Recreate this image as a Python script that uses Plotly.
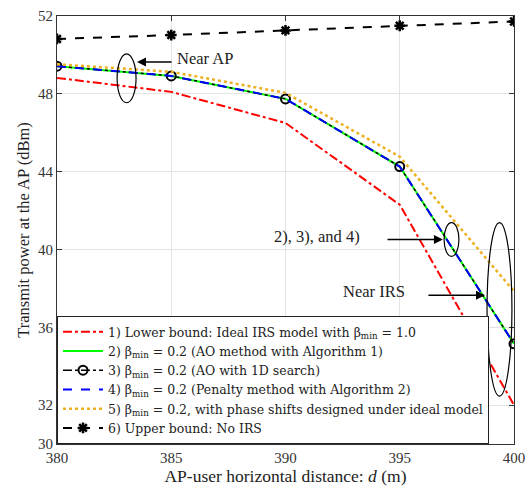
import plotly.graph_objects as go

d = [380, 385, 390, 395, 400]
lower_bound = [48.82, 48.10, 46.50, 42.30, 32.00]
ao_alg1 = [49.42, 48.92, 47.74, 44.26, 35.15]
ao_1d = [49.42, 48.92, 47.74, 44.26, 35.15]
penalty_alg2 = [49.42, 48.92, 47.74, 44.26, 35.15]
ideal_phase = [49.52, 49.13, 48.05, 44.77, 37.85]
upper_bound = [50.82, 51.02, 51.26, 51.50, 51.72]

names = [
    "1) Lower bound: Ideal IRS model with β<sub>min</sub> = 1.0",
    "2) β<sub>min</sub> = 0.2 (AO method with Algorithm 1)",
    "3) β<sub>min</sub> = 0.2 (AO with 1D search)",
    "4) β<sub>min</sub> = 0.2 (Penalty method with Algorithm 2)",
    "5) β<sub>min</sub> = 0.2, with phase shifts designed under ideal model",
    "6) Upper bound: No IRS",
]
x_ticks = [380, 385, 390, 395, 400]
y_ticks = [30, 32, 36, 40, 44, 48, 52]

FONT = "Liberation Serif"
LFONT = "DejaVu Serif"

fig = go.Figure()
fig.add_trace(go.Scatter(x=d, y=lower_bound, name=names[0], mode="lines",
                         line=dict(color="#FF0000", width=2, dash="dashdot")))
fig.add_trace(go.Scatter(x=d, y=ao_alg1, name=names[1], mode="lines",
                         line=dict(color="#00FF00", width=2)))
fig.add_trace(go.Scatter(x=d, y=ao_1d, name=names[2], mode="lines+markers",
                         line=dict(color="#000000", width=1.5, dash="dashdot"),
                         marker=dict(symbol="circle-open", size=9, color="#000000",
                                     line=dict(width=2, color="#000000"))))
fig.add_trace(go.Scatter(x=d, y=penalty_alg2, name=names[3], mode="lines",
                         line=dict(color="#0000FF", width=2, dash="dash")))
fig.add_trace(go.Scatter(x=d, y=ideal_phase, name=names[4], mode="lines",
                         line=dict(color="#EDB120", width=2.5, dash="dot")))
fig.add_trace(go.Scatter(x=d, y=upper_bound, name=names[5], mode="lines+markers",
                         line=dict(color="#000000", width=2, dash="dash"),
                         marker=dict(symbol="asterisk-open", size=9, color="#000000",
                                     line=dict(width=2.5, color="#000000"))))

shapes = [
    dict(type="circle", xref="x", yref="y", x0=382.63, x1=383.46, y0=47.54, y1=50.05,
         line=dict(color="black", width=1.2)),
    dict(type="circle", xref="x", yref="y", x0=396.94, x1=397.59, y0=39.64, y1=41.38,
         line=dict(color="black", width=1.2)),
    dict(type="circle", xref="x", yref="y", x0=398.82, x1=399.91, y0=32.46, y1=41.38,
         line=dict(color="black", width=1.2)),
]

ann_font = dict(family=FONT, size=16.5, color="#222")
annotations = [
    dict(x=383.50, y=49.64, ax=385.08, ay=49.64, xref="x", yref="y", axref="x", ayref="y",
         text="", showarrow=True, arrowhead=2, arrowsize=1.2, arrowwidth=1.5, arrowcolor="black"),
    dict(x=385.16, y=49.80, xref="x", yref="y", text="Near AP", showarrow=False,
         xanchor="left", yanchor="middle", font=ann_font),
    dict(x=396.89, y=40.51, ax=394.40, ay=40.51, xref="x", yref="y", axref="x", ayref="y",
         text="", showarrow=True, arrowhead=2, arrowsize=1.2, arrowwidth=1.5, arrowcolor="black"),
    dict(x=393.35, y=40.67, xref="x", yref="y", text="2), 3), and 4)", showarrow=False,
         xanchor="right", yanchor="middle", font=ann_font),
    dict(x=398.73, y=37.64, ax=396.19, ay=37.64, xref="x", yref="y", axref="x", ayref="y",
         text="", showarrow=True, arrowhead=2, arrowsize=1.2, arrowwidth=1.5, arrowcolor="black"),
    dict(x=395.32, y=37.85, xref="x", yref="y", text="Near IRS", showarrow=False,
         xanchor="right", yanchor="middle", font=ann_font),
]

axis_common = dict(showgrid=True, gridcolor="#E3E3E3", gridwidth=1,
                   showline=True, linecolor="#333", linewidth=1.2, mirror="ticks",
                   ticks="inside", ticklen=5, tickcolor="#333", zeroline=False,
                   automargin=False,
                   tickfont=dict(family=FONT, size=15, color="#333"))

fig.update_layout(
    width=531, height=489,
    margin=dict(l=57, r=17, t=16, b=45, autoexpand=False),
    paper_bgcolor="white", plot_bgcolor="white",
    font=dict(family=FONT, size=14, color="#222"),
    xaxis=dict(range=[380, 400], tickvals=x_ticks, ticktext=[str(v) for v in x_ticks],
               title=dict(text="AP-user horizontal distance: <i>d</i> (m)", standoff=4,
                          font=dict(family=FONT, size=17.5, color="#222")),
               **axis_common),
    yaxis=dict(range=[30, 52], tickvals=y_ticks, ticktext=[str(v) for v in y_ticks],
               title=dict(text="Transmit power at the AP (dBm)", standoff=4,
                          font=dict(family=FONT, size=16.5, color="#222")),
               **axis_common),
    legend=dict(x=0.0, y=0.0, xanchor="left", yanchor="bottom",
                bgcolor="white", bordercolor="#222", borderwidth=1,
                font=dict(family=LFONT, size=12.5, color="#222"),
                tracegroupgap=0, itemwidth=40),
    shapes=shapes,
    annotations=annotations,
    showlegend=True,
)

fig.write_html("out.html")
